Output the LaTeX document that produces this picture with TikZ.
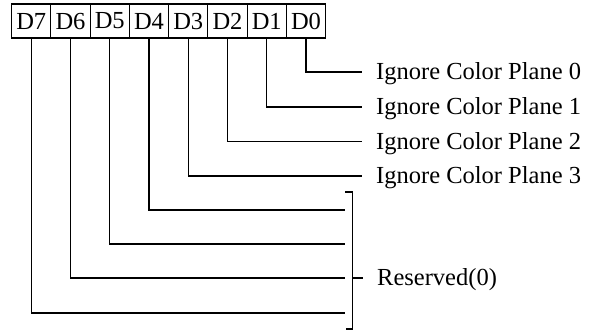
\documentclass[tikz,border=0pt]{standalone}
\usepackage{fontspec}
\setmainfont{Liberation Serif}
\usepackage{tikz}
\usetikzlibrary{positioning, calc}

\begin{document}
\begin{tikzpicture}[x=1pt, y=-1pt,
    font=\fontsize{24.5}{29}\selectfont,
    bitbox/.style={draw, line width=1.2pt, minimum width=39.25pt, minimum height=34pt,
                   inner sep=0pt, anchor=north west},
    wire/.style={line width=1.2pt},
    lbl/.style={anchor=west, inner xsep=14pt, inner ysep=0pt,
                text height=17pt, text depth=1pt},
]
\useasboundingbox (0,0) rectangle (592,331);
%% Register bits
\foreach \b [count=\k from 0] in {7,6,...,0}
  \node[bitbox] (d\b) at (11+39.25*\k, 3.5) {D\b};
%% Plane bits
\foreach \b/\y in {0/72, 1/107, 2/141.5, 3/176} {
  \node[lbl] (p\b) at (362, \y) {Ignore Color Plane \b};
  \draw[wire] (d\b.south) |- (p\b.west);
}
%% Reserved bits
\foreach \b/\y in {4/210, 5/244, 6/278, 7/313} {
  \coordinate (r\b) at (345, \y);
  \draw[wire] (d\b.south) |- (r\b);
}
\coordinate (bt) at (352.7, 192);
\coordinate (bb) at (352.7, 329);
\draw[wire] ([xshift=-7.7pt]bt) -- (bt) -- (bb) -- ([xshift=-6.7pt]bb);
\node[lbl] (res) at (363, 278) {Reserved(0)};
\draw[wire] (bt |- res.west) -- (res.west);
\end{tikzpicture}
\end{document}
